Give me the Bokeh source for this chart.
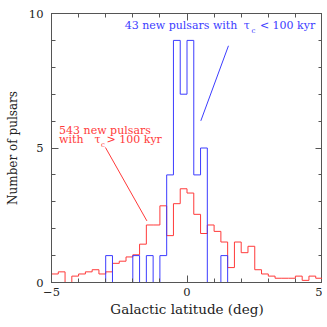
import numpy as np
from bokeh.plotting import figure
from bokeh.models import Range1d, FixedTicker, LinearAxis
from bokeh.core.properties import value
from bokeh.embed import file_html
from bokeh.resources import INLINE

# Histogram bins: galactic latitude from -5 to 5 deg in 40 bins
lat_lo = -5.0
lat_hi = 5.0
n_bins = 40

# 43 young pulsars (tau_c < 100 kyr): counts per bin
young_counts = [0, 0, 0, 0, 0, 0, 0, 0, 1, 0,
                0, 0, 1, 0, 1, 0, 1, 4, 9, 7,
                9, 4, 5, 0, 0, 1, 0, 0, 0, 0,
                0, 0, 0, 0, 0, 0, 0, 0, 0, 0]

# 543 older pulsars (tau_c > 100 kyr): counts per bin (scaled to 43 in the plot)
old_counts = [4, 5, 0, 3, 4, 5, 6, 4, 5, 9,
              10, 12, 13, 18, 27, 27, 36, 22, 37, 44,
              42, 32, 23, 27, 24, 19, 7, 19, 14, 17,
              6, 4, 3, 2, 2, 2, 3, 1, 3, 2]
n_young = 43
n_old = 543

x_ticks = [-5, 0, 5]
y_ticks = [0, 5, 10]

RED = "#ff3a3a"
BLUE = "#3c3cff"
FRAME = "#555555"
FONT = "DejaVu Serif"

edges = np.linspace(lat_lo, lat_hi, n_bins + 1)
young = list(map(float, young_counts))
old = [c * n_young / n_old for c in old_counts]

p = figure(width=322, height=319, output_backend="svg", toolbar_location=None,
           x_range=Range1d(lat_lo, lat_hi), y_range=Range1d(0, 10),
           min_border_left=51, min_border_right=0, min_border_top=13,
           min_border_bottom=37)
p.background_fill_color = "white"
p.border_fill_color = "white"
p.outline_line_color = FRAME
p.xgrid.visible = False
p.ygrid.visible = False

p.step(x=list(edges), y=old + [old[-1]], mode="after", line_color=RED, line_width=1)
p.step(x=list(edges), y=young + [young[-1]], mode="after", line_color=BLUE, line_width=1)

def style_axis(ax, ticks, minor, labels=True):
    ax.ticker = FixedTicker(ticks=ticks, minor_ticks=minor)
    ax.axis_line_color = FRAME
    ax.major_tick_line_color = FRAME
    ax.minor_tick_line_color = FRAME
    ax.major_tick_in = 7
    ax.major_tick_out = 0
    ax.minor_tick_in = 4
    ax.minor_tick_out = 0
    ax.major_label_text_font = FONT
    ax.axis_label_text_font = FONT
    ax.axis_label_text_font_style = "normal"
    ax.axis_label_text_color = "#222222"
    ax.major_label_text_color = "#222222"
    ax.major_label_text_font_size = "11.5px"
    ax.axis_label_text_font_size = "12px"
    if not labels:
        ax.major_label_overrides = {t: "" for t in ticks}
        ax.major_label_standoff = 0
        ax.axis_label_standoff = 0

style_axis(p.xaxis[0], x_ticks, list(range(-5, 6)))
style_axis(p.yaxis[0], y_ticks, list(range(0, 11)))
p.xaxis[0].major_label_overrides = {-5: "\u22125"}
p.xaxis[0].axis_label = "Galactic latitude (deg)"
p.xaxis[0].axis_label_text_font_size = "13.5px"
p.yaxis[0].axis_label = "Number of pulsars"
p.xaxis[0].major_label_standoff = 5
p.xaxis[0].axis_label_standoff = 2
p.yaxis[0].major_label_standoff = 8
p.yaxis[0].axis_label_standoff = 6

ax_r = LinearAxis()
style_axis(ax_r, y_ticks, list(range(0, 11)), labels=False)
p.add_layout(ax_r, "right")
ax_t = LinearAxis()
style_axis(ax_t, x_ticks, list(range(-5, 6)), labels=False)
p.add_layout(ax_t, "above")

def label(x, y, s, color, size="11px", align="left"):
    p.text(x=[x], y=[y], text=[s], text_color=color, text_font=value(FONT),
           text_font_size=size, text_baseline="middle", text_align=align)

# annotations (young pulsars)
label(-2.30, 9.54, "43 new pulsars with", BLUE)
label(2.21, 9.54, "\u03c4", BLUE, align="center")
label(2.45, 9.36, "c", BLUE, size="7px", align="center")
label(2.69, 9.54, "< 100 kyr", BLUE)
p.segment(x0=[0.51], y0=[6.01], x1=[1.53], y1=[8.80], line_color=BLUE, line_width=1)

# annotations (older pulsars)
label(-4.72, 5.64, "543 new pulsars", RED)
label(-4.72, 5.30, "with", RED)
label(-3.30, 5.30, "\u03c4", RED, align="center")
label(-3.10, 5.11, "c", RED, size="7px", align="center")
label(-2.97, 5.30, "> 100 kyr", RED)
p.segment(x0=[-3.01], y0=[5.02], x1=[-1.48], y1=[2.29], line_color=RED, line_width=1)

open("out.html", "w").write(file_html(p, INLINE))
